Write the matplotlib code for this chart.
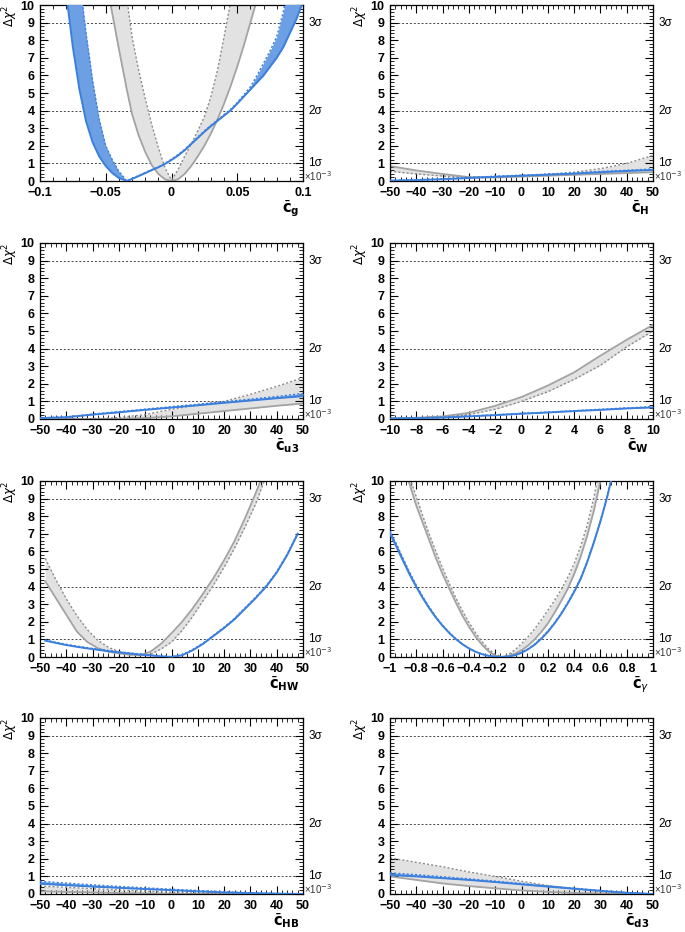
import numpy as np
import matplotlib.pyplot as plt
from matplotlib.ticker import MultipleLocator, AutoMinorLocator, FuncFormatter
import matplotlib.transforms as mtransforms

plt.rcParams['font.family'] = ['Liberation Sans', 'DejaVu Sans']

# ---- data (x, grey band edges, blue band edges) ----
g_x = [-0.1, -0.095, -0.09, -0.085, -0.08, -0.075, -0.07, -0.065, -0.06, -0.055, -0.05,
       -0.045, -0.04, -0.034,
       -0.03, -0.025, -0.02, -0.015, -0.01, -0.005, 0.0, 0.005, 0.01, 0.015, 0.02, 0.025,
       0.03, 0.035, 0.04, 0.045, 0.05, 0.055, 0.06, 0.065, 0.07, 0.075, 0.08, 0.085,
       0.09, 0.095, 0.1]
g_grey_solid = [45, 40, 36, 32, 28, 24.5, 21, 18, 15.5, 13.2, 11.4, 9.5, 7.5, 5.2,
                3.8, 2.6, 1.65, 0.9, 0.4, 0.1, 0.0, 0.1, 0.4, 0.85, 1.4, 2.0,
                2.7, 3.5, 4.4, 5.4, 6.5, 7.7, 9.0, 10.3, 11.7, 13.2, 14.8, 16.5,
                18.3, 20.2, 22]
g_grey_dot = [55, 50, 45, 40, 35.5, 31, 27, 23.5, 20.5, 18, 15.8, 14, 12.5, 10.4,
              8.2, 6.3, 4.7, 3.2, 1.9, 0.75, 0.05, 0.65, 1.4, 2.1, 2.85, 3.65,
              4.8, 6.3, 8.2, 10.2, 12.5, 15, 17.5, 20, 22.5, 25, 27.5, 30,
              32.5, 35, 37.5]
g_blue_solid = [30, 24, 19, 14.5, 10.6, 7.6, 5.2, 3.4, 2.2, 1.4, 0.85, 0.45, 0.17, 0.0,
                0.12, 0.28, 0.45, 0.62, 0.78, 0.97, 1.2, 1.45, 1.75, 2.1, 2.45, 2.8,
                3.12, 3.42, 3.72, 4.02, 4.4, 4.8, 5.2, 5.6, 6.0, 6.5, 7.0, 7.6,
                8.4, 9.2, 10.2]
g_blue_dot = [45, 38, 31, 24.5, 19, 15, 11.5, 8.4, 5.7, 3.5, 2.0, 1.2, 0.55, 0.0,
              0.15, 0.31, 0.48, 0.65, 0.8, 1.0, 1.24, 1.5, 1.8, 2.15, 2.5, 2.85,
              3.17, 3.47, 3.78, 4.08, 4.45, 4.9, 5.35, 6.0, 6.7, 7.4, 8.2, 9.6,
              11.5, 13.5, 15.5]

h_x = [-50, -40, -30, -20, -10, 0, 10, 20, 30, 40, 50]
h_grey_solid = [0.85, 0.6, 0.4, 0.22, 0.2, 0.25, 0.3, 0.35, 0.4, 0.45, 0.5]
h_grey_dot = [0.55, 0.4, 0.28, 0.2, 0.2, 0.28, 0.38, 0.5, 0.7, 1.0, 1.45]
h_blue_solid = [0.02, 0.05, 0.1, 0.17, 0.24, 0.3, 0.36, 0.42, 0.5, 0.57, 0.63]
h_blue_dot = [0.04, 0.07, 0.13, 0.2, 0.27, 0.33, 0.39, 0.46, 0.54, 0.61, 0.68]

u3_x = [-50, -40, -30, -20, -10, 0, 10, 20, 30, 40, 50]
u3_grey_solid = [0.0, 0.0, 0.0, 0.01, 0.05, 0.15, 0.3, 0.45, 0.6, 0.75, 0.88]
u3_grey_dot = [0.0, 0.0, 0.02, 0.08, 0.25, 0.55, 0.8, 1.0, 1.4, 1.85, 2.35]
u3_blue_solid = [0.05, 0.1, 0.25, 0.38, 0.52, 0.65, 0.78, 0.92, 1.05, 1.18, 1.3]
u3_blue_dot = [0.06, 0.12, 0.28, 0.42, 0.56, 0.7, 0.84, 0.98, 1.13, 1.28, 1.45]

w_x = [-10, -8, -6, -4, -2, 0, 2, 4, 6, 8, 10]
w_grey_solid = [0.05, 0.07, 0.15, 0.35, 0.75, 1.25, 1.9, 2.65, 3.6, 4.5, 5.35]
w_grey_dot = [0.05, 0.06, 0.1, 0.25, 0.55, 1.0, 1.55, 2.25, 3.05, 4.1, 5.0]
w_blue_solid = [0.02, 0.05, 0.08, 0.15, 0.22, 0.3, 0.37, 0.45, 0.52, 0.6, 0.66]
w_blue_dot = [0.03, 0.06, 0.1, 0.17, 0.24, 0.32, 0.39, 0.47, 0.55, 0.63, 0.7]

hw_x = [-48, -44, -40, -36, -32, -28, -24, -20, -16, -12, -8, -4, 0,
        4, 8, 12, 16, 20, 24, 28, 32, 36, 40, 44, 48]
hw_grey_solid = [4.3, 3.35, 2.4, 1.45, 0.85, 0.5, 0.3, 0.2, 0.13, 0.1, 0.3, 0.75, 1.35,
                 2.0, 2.75, 3.6, 4.5, 5.5, 6.6, 7.9, 9.3, 10.8, 12.4, 14, 15.7]
hw_grey_dot = [5.6, 4.4, 3.3, 2.35, 1.55, 0.95, 0.55, 0.3, 0.15, 0.1, 0.15, 0.45, 0.85,
               1.5, 2.3, 3.2, 4.1, 5.1, 6.2, 7.4, 8.7, 10.3, 12, 13.7, 15.5]
hw_blue_solid = [0.93, 0.8, 0.68, 0.58, 0.49, 0.41, 0.33, 0.26, 0.2, 0.14, 0.09, 0.04, 0.0,
                 0.1, 0.38, 0.75, 1.2, 1.65, 2.15, 2.75, 3.35, 4.0, 4.8, 5.8, 7.0]
hw_blue_dot = [0.97, 0.84, 0.72, 0.62, 0.53, 0.45, 0.37, 0.3, 0.23, 0.17, 0.11, 0.06, 0.02,
               0.13, 0.42, 0.79, 1.24, 1.7, 2.2, 2.8, 3.4, 4.05, 4.85, 5.85, 7.05]

gam_x = [-1.0, -0.95, -0.9, -0.85, -0.8, -0.75, -0.7, -0.65, -0.6, -0.55, -0.5,
         -0.45, -0.4, -0.35, -0.3, -0.25, -0.2, -0.15, -0.1, -0.05, 0.0,
         0.05, 0.1, 0.15, 0.2, 0.25, 0.3, 0.35, 0.4, 0.45, 0.5,
         0.55, 0.6, 0.65, 0.7, 0.75, 0.8, 0.85, 0.9, 0.95, 1.0]
gam_grey_solid = [13.4, 12.2, 10.9, 9.8, 8.6, 7.6, 6.6, 5.6, 4.7, 3.9, 3.1,
                  2.36, 1.72, 1.16, 0.69, 0.32, 0.07, 0.01, 0.06, 0.18, 0.38,
                  0.65, 1.0, 1.42, 1.9, 2.5, 3.15, 3.85, 4.7, 5.7, 6.9,
                  8.3, 10.0, 12, 14, 16, 18, 20, 22, 24, 26]
gam_grey_dot = [14.0, 12.7, 11.4, 10.2, 9.1, 8.0, 6.95, 5.97, 5.05, 4.19, 3.37,
                2.64, 1.97, 1.38, 0.87, 0.45, 0.15, 0.0, 0.15, 0.4, 0.75,
                1.15, 1.6, 2.1, 2.65, 3.2, 3.8, 4.5, 5.3, 6.3, 7.5,
                9.05, 11, 13, 15, 17, 19, 21, 23, 25, 27]
gam_blue_solid = [7.0, 6.25, 5.45, 4.68, 3.98, 3.34, 2.75, 2.23, 1.77, 1.37, 1.02,
                  0.73, 0.49, 0.3, 0.16, 0.065, 0.014, 0.0, 0.024, 0.1, 0.24,
                  0.44, 0.7, 1.04, 1.43, 1.9, 2.43, 3.03, 3.7, 4.44, 5.4,
                  6.5, 7.7, 9.05, 10.6, 12.3, 14, 16, 18, 20, 22]
gam_blue_dot = [7.15, 6.4, 5.6, 4.8, 4.08, 3.42, 2.82, 2.28, 1.81, 1.4, 1.05,
                0.75, 0.5, 0.31, 0.17, 0.07, 0.015, 0.0, 0.03, 0.11, 0.26,
                0.46, 0.73, 1.07, 1.47, 1.94, 2.47, 3.07, 3.75, 4.5, 5.45,
                6.55, 7.75, 9.1, 10.65, 12.4, 14, 16, 18, 20, 22]

hb_x = [-50, -40, -30, -20, -10, 0, 10, 20, 30, 40, 50]
hb_grey_solid = [0.15, 0.12, 0.09, 0.06, 0.03, 0.01, 0.0, 0.0, 0.0, 0.0, 0.0]
hb_grey_dot = [0.45, 0.38, 0.3, 0.23, 0.16, 0.1, 0.05, 0.02, 0.0, 0.0, 0.0]
hb_blue_solid = [0.58, 0.5, 0.42, 0.35, 0.28, 0.22, 0.15, 0.09, 0.05, 0.02, 0.0]
hb_blue_dot = [0.72, 0.62, 0.52, 0.43, 0.35, 0.27, 0.2, 0.13, 0.07, 0.03, 0.0]

d3_x = [-50, -40, -30, -20, -10, 0, 10, 20, 30, 40, 50]
d3_grey_solid = [1.0, 0.8, 0.6, 0.45, 0.32, 0.2, 0.12, 0.06, 0.03, 0.01, 0.0]
d3_grey_dot = [2.05, 1.8, 1.55, 1.25, 1.0, 0.72, 0.48, 0.3, 0.15, 0.05, 0.0]
d3_blue_solid = [1.08, 1.0, 0.9, 0.8, 0.68, 0.55, 0.42, 0.3, 0.18, 0.07, 0.0]
d3_blue_dot = [1.2, 1.1, 0.98, 0.86, 0.73, 0.6, 0.46, 0.33, 0.2, 0.08, 0.0]

labels = ['g', 'H', 'u3', 'W', 'HW', r'\gamma', 'HB', 'd3']
xlims = [(-0.1, 0.1), (-50, 50), (-50, 50), (-10, 10), (-50, 50), (-1, 1), (-50, 50), (-50, 50)]
xmajor = [0.05, 10, 10, 2, 10, 0.2, 10, 10]

panels = [
    (g_x, g_grey_solid, g_grey_dot, g_blue_solid, g_blue_dot),
    (h_x, h_grey_solid, h_grey_dot, h_blue_solid, h_blue_dot),
    (u3_x, u3_grey_solid, u3_grey_dot, u3_blue_solid, u3_blue_dot),
    (w_x, w_grey_solid, w_grey_dot, w_blue_solid, w_blue_dot),
    (hw_x, hw_grey_solid, hw_grey_dot, hw_blue_solid, hw_blue_dot),
    (gam_x, gam_grey_solid, gam_grey_dot, gam_blue_solid, gam_blue_dot),
    (hb_x, hb_grey_solid, hb_grey_dot, hb_blue_solid, hb_blue_dot),
    (d3_x, d3_grey_solid, d3_grey_dot, d3_blue_solid, d3_blue_dot),
]

BLUE = '#3b7fdd'
BLUE_FILL = '#6c9fe4'
GREY = '#a3a3a3'
GREY_FILL = '#e2e2e2'

W, H = 685, 932
fig = plt.figure(figsize=(W / 100, H / 100), dpi=100)

col_left = [40, 390]
ax_w = 263
row_top = [5, 243, 481, 718]
ax_h = 176


def fmt(v, _):
    s = '%g' % round(v, 6)
    return s.replace('-', '\u2212')


for i, (data, lab, xl, xm) in enumerate(zip(panels, labels, xlims, xmajor)):
    r, c = divmod(i, 2)
    rect = [col_left[c] / W, 1 - (row_top[r] + ax_h) / H, ax_w / W, ax_h / H]
    ax = fig.add_axes(rect)
    x, gs, gd, bs, bd = [np.array(a, dtype=float) for a in data]

    ax.fill_between(x, gs, gd, color=GREY_FILL, lw=0, zorder=1)
    ax.plot(x, gs, color=GREY, lw=1.3, zorder=2)
    ax.plot(x, gd, color='#8c8c8c', lw=1.0, ls=(0, (1.5, 1.5)), zorder=2)
    ax.fill_between(x, bs, bd, color=BLUE_FILL, lw=0, zorder=3)
    ax.plot(x, bs, color=BLUE, lw=1.4, zorder=4)
    ax.plot(x, bd, color=BLUE, lw=1.0, ls=(0, (1.5, 1.5)), zorder=4)

    for lvl in (1, 4, 9):
        ax.axhline(lvl, color='#444444', lw=0.7, ls=(0, (2, 2)), zorder=0)

    ax.set_xlim(*xl)
    ax.set_ylim(0, 10)
    ax.xaxis.set_major_locator(MultipleLocator(xm))
    ax.xaxis.set_minor_locator(AutoMinorLocator(5))
    ax.yaxis.set_major_locator(MultipleLocator(1))
    ax.yaxis.set_minor_locator(AutoMinorLocator(5))
    ax.xaxis.set_major_formatter(FuncFormatter(fmt))
    ax.tick_params(which='both', direction='in', top=True, right=True, labelsize=9)
    ax.tick_params(axis='x', pad=4.5)
    ax.tick_params(axis='y', pad=4)
    ax.tick_params(which='major', length=6, width=0.8)
    ax.tick_params(which='minor', length=3, width=0.6)
    for t in ax.get_xticklabels() + ax.get_yticklabels():
        t.set_fontweight('bold')
    for sp in ax.spines.values():
        sp.set_linewidth(0.9)

    trans = mtransforms.blended_transform_factory(ax.transAxes, ax.transData)
    for lvl, s in ((9, '3\u03c3'), (4, '2\u03c3'), (1, '1\u03c3')):
        ax.text(1.02, lvl, s, transform=trans, va='center', ha='left', fontsize=8.5)
    ax.text(1.004, 0.3, '\u00d710$^{-3}$', transform=trans, va='center', ha='left',
            fontsize=7, color='#333333')

    ax.text(-0.115, 1.0, r'$\Delta\chi^{2}$', transform=ax.transAxes, rotation=90,
            va='top', ha='center', fontsize=8.5)
    if lab == r'\gamma':
        xlab = r'$\bar{\mathbf{c}}_{\gamma}$'
    else:
        xlab = r'$\bar{\mathbf{c}}_{\mathbf{%s}}$' % lab
    ax.text(0.985, -0.1, xlab, transform=ax.transAxes, ha='right', va='top', fontsize=10.5)

fig.savefig('out.png', dpi=100)
